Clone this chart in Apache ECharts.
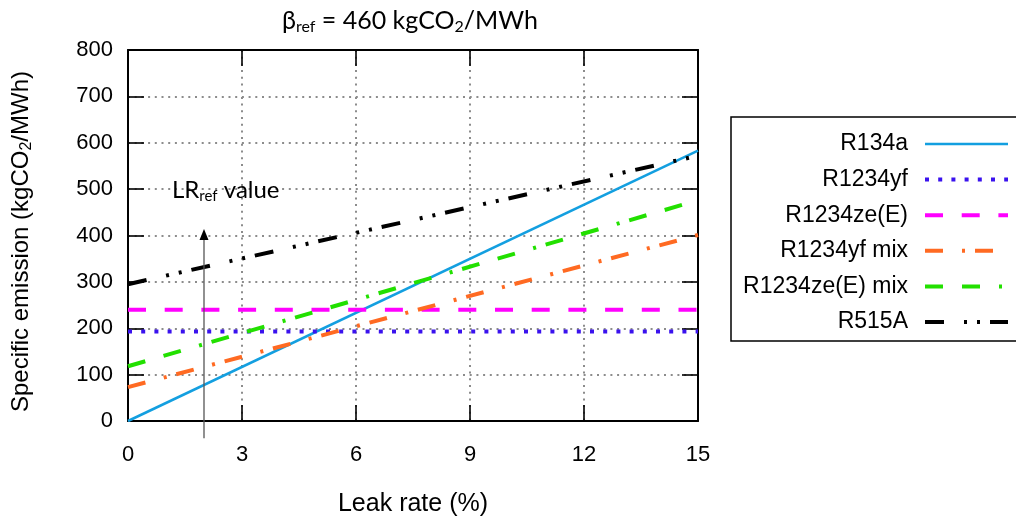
<!DOCTYPE html>
<html>
<head>
<meta charset="utf-8">
<title>Specific emission vs leak rate</title>
<script src="https://cdn.jsdelivr.net/npm/echarts@6/dist/echarts.min.js"></script>
<style>
  html, body { margin: 0; padding: 0; background: #fff; }
  #chart { width: 1016px; height: 522px; }
</style>
</head>
<body>
<div id="chart"></div>
<script>
// Leak rate (%) at the two ends of each straight line
const leakRates = [0, 15];

// Specific emission (kgCO2/MWh) at leak rate 0 % and 15 %
const r134a = [0, 583];
const r1234yf = [193, 193];
const r1234zeE = [240, 240];
const r1234yfMix = [73, 401];
const r1234zeEMix = [118, 476];
const r515a = [295, 572];

const seriesNames = ['R134a', 'R1234yf', 'R1234ze(E)', 'R1234yf mix', 'R1234ze(E) mix', 'R515A'];
const seriesValues = [r134a, r1234yf, r1234zeE, r1234yfMix, r1234zeEMix, r515a];

// Reference leak rate marker: [leak rate, bottom, top]
const lrRef = [[2, -37, 414]];

const xTicks = { min: 0, max: 15, interval: 3 };
const yTicks = { min: 0, max: 800, interval: 100 };

const styles = [
  { color: '#139fe0', width: 2.5, type: 'solid' },
  { color: '#3a12ee', width: 4, type: [4, 9.2] },
  { color: '#ff00ff', width: 4, type: [18, 18.7] },
  { color: '#ff6a22', width: 4, type: [18, 19, 3, 10] },
  { color: '#22e000', width: 4, type: [18, 19, 18, 19, 3, 10] },
  { color: '#000000', width: 4, type: [19, 20, 3, 10, 3, 10] }
];

const sansFont = '"Liberation Sans", Arial, sans-serif';
const titleFont = 'Lato, "Open Sans", sans-serif';

const chart = echarts.init(document.getElementById('chart'), null, { renderer: 'canvas' });

const gridLine = { show: true, lineStyle: { color: '#8c8c8c', width: 2, type: [2, 4.7] } };
const innerTick = { show: true, inside: true, length: 16, lineStyle: { color: '#000', width: 1.6 } };
const frameLine = { show: true, onZero: false, lineStyle: { color: '#000', width: 2 } };

const lineSeries = seriesNames.map((name, i) => ({
  name: name,
  type: 'line',
  symbol: 'none',
  silent: true,
  data: leakRates.map((x, j) => [x, seriesValues[i][j]]),
  lineStyle: { color: styles[i].color, width: styles[i].width, type: styles[i].type },
  itemStyle: { color: styles[i].color },
  z: 3
}));

// Legend entries: line sample only, in the series' own stroke
const legendItems = seriesNames.map((name, i) => ({
  name: name,
  lineStyle: { color: styles[i].color, width: styles[i].width, type: styles[i].type },
  itemStyle: { opacity: 0 }
}));

const arrowSeries = {
  type: 'custom',
  silent: true,
  data: lrRef,
  z: 4,
  renderItem: function (params, api) {
    const bottom = api.coord([api.value(0), api.value(1)]);
    const tip = api.coord([api.value(0), api.value(2)]);
    return {
      type: 'group',
      children: [
        {
          type: 'line',
          shape: { x1: bottom[0], y1: bottom[1], x2: tip[0], y2: tip[1] + 6 },
          style: { stroke: '#555', lineWidth: 1.3 }
        },
        {
          type: 'polygon',
          shape: { points: [[tip[0], tip[1]], [tip[0] - 4.5, tip[1] + 11], [tip[0] + 4.5, tip[1] + 11]] },
          style: { fill: '#000' }
        },
        {
          type: 'text',
          style: {
            text: 'LR{s|ref} value',
            x: tip[0] - 32,
            y: tip[1] - 39,
            align: 'left',
            verticalAlign: 'middle',
            fontFamily: titleFont,
            fontSize: 24,
            fill: '#000',
            rich: {
              s: { fontFamily: titleFont, fontSize: 15, padding: [12, 0, 0, 0], fill: '#000' }
            }
          }
        }
      ]
    };
  }
};

chart.setOption({
  animation: false,
  backgroundColor: '#ffffff',
  title: {
    text: 'β{s|ref} = 460 kgCO{s|2}/MWh',
    left: 405,
    top: 1,
    textAlign: 'center',
    textStyle: {
      fontFamily: titleFont,
      fontSize: 25,
      fontWeight: 'normal',
      color: '#000',
      rich: {
        s: { fontFamily: titleFont, fontSize: 16, padding: [13, 0, 0, 0], color: '#000' }
      }
    }
  },
  grid: { left: 128, right: 318, top: 50, bottom: 101, containLabel: false },
  legend: {
    data: legendItems,
    orient: 'vertical',
    align: 'right',
    left: 731,
    top: 117,
    itemWidth: 83,
    itemHeight: 14,
    itemGap: 11.6,
    padding: [15, 20, 7, 12],
    backgroundColor: '#fff',
    borderColor: '#000',
    borderWidth: 1.5,
    borderRadius: 0,
    selectedMode: false,
    itemStyle: { opacity: 0 },
    textStyle: {
      fontFamily: sansFont,
      fontSize: 23,
      lineHeight: 24,
      color: '#000',
      width: 165,
      align: 'right',
      padding: [0, 12, 0, 0]
    }
  },
  xAxis: [
    {
      type: 'value',
      position: 'bottom',
      min: xTicks.min,
      max: xTicks.max,
      interval: xTicks.interval,
      name: 'Leak rate (%)',
      nameLocation: 'middle',
      nameGap: 71,
      nameTextStyle: { fontFamily: sansFont, fontSize: 25, color: '#000' },
      axisLine: frameLine,
      axisTick: innerTick,
      splitLine: gridLine,
      axisLabel: { fontFamily: sansFont, fontSize: 22, color: '#000', margin: 23 }
    },
    {
      type: 'value',
      position: 'top',
      min: xTicks.min,
      max: xTicks.max,
      interval: xTicks.interval,
      axisLine: frameLine,
      axisTick: innerTick,
      splitLine: { show: false },
      axisLabel: { show: false }
    }
  ],
  yAxis: [
    {
      type: 'value',
      position: 'left',
      min: yTicks.min,
      max: yTicks.max,
      interval: yTicks.interval,
      name: 'Specific emission (kgCO{s|2}/MWh)',
      nameLocation: 'middle',
      nameGap: 93,
      nameTextStyle: {
        fontFamily: sansFont,
        fontSize: 24,
        color: '#000',
        padding: [0, 12, 0, 0],
        rich: { s: { fontFamily: sansFont, fontSize: 16, padding: [12, 0, 0, 0], color: '#000' } }
      },
      axisLine: frameLine,
      axisTick: innerTick,
      splitLine: gridLine,
      axisLabel: { fontFamily: sansFont, fontSize: 22, color: '#000', margin: 15 }
    },
    {
      type: 'value',
      position: 'right',
      min: yTicks.min,
      max: yTicks.max,
      interval: yTicks.interval,
      axisLine: frameLine,
      axisTick: innerTick,
      splitLine: { show: false },
      axisLabel: { show: false }
    }
  ],
  series: lineSeries.concat([arrowSeries])
});
</script>
</body>
</html>
